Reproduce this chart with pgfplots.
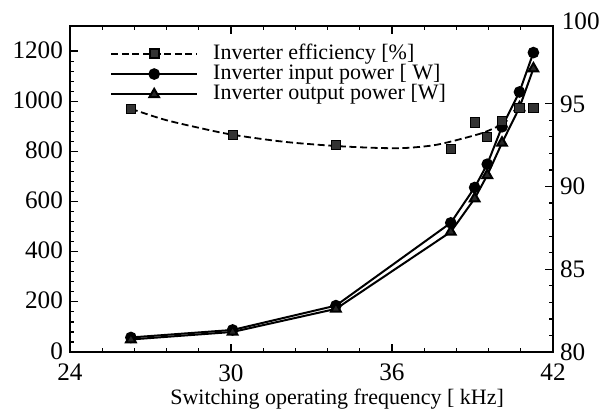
\documentclass[border=0pt]{standalone}
\usepackage{fontspec}
\setmainfont{Liberation Serif}
\usepackage{pgfplots}
\pgfplotsset{compat=1.18}

% efficiency (right axis): measured points and the fitted trend curve
\pgfplotstableread{
f eff
26.27 94.70
30.06 93.13
33.91 92.52
38.19 92.26
39.08 93.87
39.55 92.99
40.10 93.97
40.75 94.74
41.27 94.74
}\effdata
\pgfplotstableread{
f eff
26.27 94.70
27.50 94.05
28.80 93.55
30.06 93.13
32.00 92.70
33.90 92.45
35.50 92.33
36.50 92.33
37.50 92.48
38.20 92.72
39.30 93.20
39.90 93.60
40.30 94.00
}\efffit
% input and output power (left axis)
\pgfplotstableread{
f pin pout
26.27 58 50
30.06 88 80
33.91 185 172
38.19 515 479
39.08 656 612
39.55 749 705
40.10 898 834
40.75 1037 975
41.27 1194 1130
}\powdata

\pgfplotsset{
  every axis/.append style={
    scale only axis, width=241.5pt, height=163pt,
    xmin=24, xmax=42,
    tick align=inside,
    major tick length=4pt, minor tick length=2.2pt,
    every tick/.style={black, line width=0.6pt},
    tick label style={font=\fontsize{12.6}{13}\selectfont},
    /pgf/number format/assume math mode=true,
    /pgf/number format/1000 sep={},
    axis line style={line width=0.8pt},
  },
  effline/.style={black, line width=0.9pt, dash pattern=on 3.5pt off 1.8pt},
}

\begin{document}
\begin{tikzpicture}
\useasboundingbox (-35pt,-28.5pt) rectangle (267.5pt,176pt);
\begin{axis}[
  ymin=0, ymax=1300,
  xtick={24,30,36,42}, minor x tick num=4,
  ytick={0,200,...,1200}, minor y tick num=4,
  ytick pos=left, xtick pos=both,
  xticklabel shift=2.6pt,
  yticklabel style={yshift=0.6pt},
  xlabel={Switching operating frequency [ kHz]},
  xlabel style={at={(rel axis cs:0.553,0)}, anchor=base, yshift=-26pt,
    font=\fontsize{11}{11}\selectfont},
  legend cell align=left,
  legend style={draw=none, fill=none, at={(rel axis cs:0.07,0.96)}, anchor=north west,
    font=\fontsize{11}{11}\selectfont, row sep=0pt,
    nodes={inner ysep=0.2pt, text height=7.6pt, text depth=2.2pt},
    /tikz/every odd column/.append style={column sep=5.5pt}},
  legend image code/.code={
    \draw[#1, mark repeat=2, mark phase=2]
      plot coordinates {(0pt,0pt) (21.5pt,0pt) (43pt,0pt)};},
]
\addlegendimage{effline, mark=square*, mark size=2.3pt,
  mark options={solid, fill=black!80, draw=black}}
\addlegendentry{Inverter efficiency [\%]}
\addplot[black, line width=1pt, mark=*, mark size=2.4pt,
  mark options={fill=black}] table[x=f, y=pin] {\powdata};
\addlegendentry{Inverter input power [ W]}
\addplot[black, line width=1pt, mark=triangle*, mark size=2.8pt,
  mark options={fill=black!85}] table[x=f, y=pout] {\powdata};
\addlegendentry{Inverter output power [W]}
\end{axis}
\begin{axis}[
  ymin=80, ymax=99.7,
  axis x line=none, axis y line*=right,
  ytick={80,85,90,95}, minor y tick num=4, ytick pos=right,
  clip=false,
]
\addplot[effline, smooth, no marks] table[x=f, y=eff] {\efffit};
\addplot[only marks, mark=square*, mark size=2.3pt,
  mark options={fill=black!80, draw=black}] table[x=f, y=eff] {\effdata};
\node[anchor=west, font=\fontsize{12.6}{13}\selectfont, inner sep=4.2pt]
  at (axis cs:42,100) {100};
\end{axis}
\end{tikzpicture}
\end{document}
